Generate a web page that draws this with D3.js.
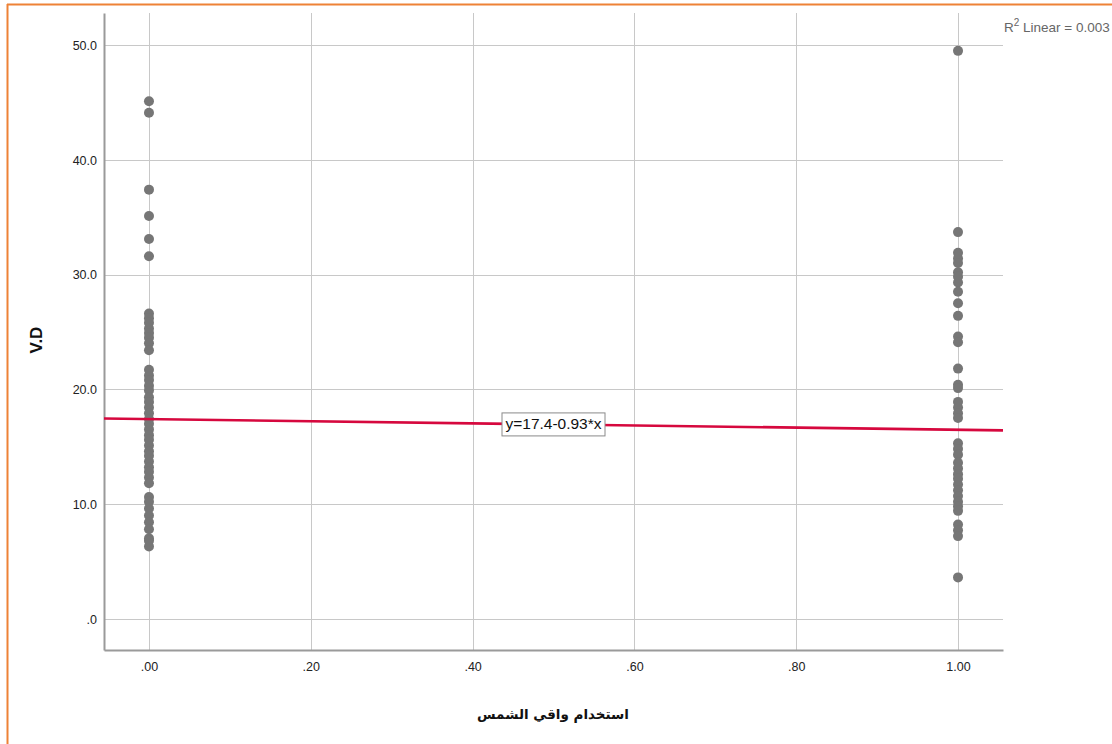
<!DOCTYPE html>
<html>
<head>
<meta charset="utf-8">
<script src="https://cdn.jsdelivr.net/npm/d3@7"></script>
<style>
  body { margin: 0; background: #fff; }
  svg { display: block; }
</style>
</head>
<body>
<svg id="chart" width="1112" height="744"></svg>
<script>
// V.D by sunscreen use (0 = no, 1 = yes)
const groupX = [0, 1];
const vdGroup0 = [45.1, 44.1, 37.4, 35.1, 33.1, 31.6,
  26.6, 26.2, 25.8, 25.3, 24.9, 24.5, 24.0, 23.4,
  21.7, 21.2, 20.8, 20.3, 19.9, 19.3, 18.9, 18.4, 17.9, 17.4, 17.0,
  16.5, 16.0, 15.6, 15.1, 14.6, 14.2, 13.7, 13.2, 12.8, 12.3, 11.8,
  10.6, 10.2, 9.6, 9.0, 8.4, 7.8, 7.0, 6.8, 6.3];
const vdGroup1 = [49.5, 33.7, 31.9, 31.4, 31.0, 30.2, 29.8, 29.3, 28.5, 27.5,
  26.4, 24.6, 24.1, 21.8, 20.4, 20.1, 18.9, 18.4, 17.9, 17.5,
  15.3, 14.8, 14.3, 13.6, 13.1, 12.6, 12.2, 11.7, 11.2, 10.7, 10.2,
  9.8, 9.4, 8.2, 7.7, 7.2, 3.6];
const xTicks = [0, 0.2, 0.4, 0.6, 0.8, 1.0];
const yTicks = [0, 10, 20, 30, 40, 50];
const intercept = 17.4;
const slope = -0.93;
const rSquared = "0.003";
const xTitle = "استخدام واقي الشمس";
const yTitle = "V.D";

const svg = d3.select("#chart");
const W = 1112, H = 744;
const plot = { left: 104, right: 1003, top: 13, bottom: 650 };

const x = d3.scaleLinear().domain([-0.0556, 1.0556]).range([plot.left, plot.right]);
const y = d3.scaleLinear().domain([-2.73, 52.8]).range([plot.bottom, plot.top]);

// frame accent
svg.append("line").attr("x1", 7).attr("x2", W).attr("y1", 4.5).attr("y2", 4.5)
  .attr("stroke", "#ee8236").attr("stroke-width", 2);
svg.append("line").attr("x1", 7.5).attr("x2", 7.5).attr("y1", 4).attr("y2", H)
  .attr("stroke", "#ee8236").attr("stroke-width", 2);

// grid
const grid = svg.append("g");
grid.selectAll(".gy").data(yTicks).join("line")
  .attr("x1", plot.left).attr("x2", plot.right)
  .attr("y1", d => Math.round(y(d)) + 0.5).attr("y2", d => Math.round(y(d)) + 0.5)
  .attr("stroke", "#c8c8c8").attr("stroke-width", 1);
grid.selectAll(".gx").data(xTicks).join("line")
  .attr("x1", d => Math.round(x(d)) + 0.5).attr("x2", d => Math.round(x(d)) + 0.5)
  .attr("y1", plot.top).attr("y2", plot.bottom)
  .attr("stroke", "#c8c8c8").attr("stroke-width", 1);

// axes
const yAxis = d3.axisLeft(y).tickValues(yTicks).tickSize(0).tickPadding(7)
  .tickFormat(d => d === 0 ? ".0" : d3.format(".1f")(d));
const xAxis = d3.axisBottom(x).tickValues(xTicks).tickSize(0).tickPadding(12)
  .tickFormat(d => d3.format(".2f")(d).replace(/^0/, ""));

const gy = svg.append("g").attr("transform", `translate(${plot.left},0)`).call(yAxis);
const gx = svg.append("g").attr("transform", `translate(0,${plot.bottom})`).call(xAxis);
[gy, gx].forEach(g => {
  g.select(".domain").attr("stroke", "#9a9a9a").attr("stroke-width", 2);
  g.selectAll("text").attr("font-family", "'Liberation Sans', Arial, sans-serif")
    .attr("font-size", 12.5).attr("fill", "#222");
});
gy.selectAll("text").attr("dy", "0.35em");

// points
const pts = [];
vdGroup0.forEach(v => pts.push({ x: groupX[0], v }));
vdGroup1.forEach(v => pts.push({ x: groupX[1], v }));
svg.append("g").selectAll("circle").data(pts).join("circle")
  .attr("cx", d => x(d.x)).attr("cy", d => y(d.v)).attr("r", 5)
  .attr("fill", "#767676");

// fit line
const [x0, x1] = x.domain();
svg.append("line")
  .attr("x1", x(x0)).attr("y1", y(intercept + slope * x0))
  .attr("x2", x(x1)).attr("y2", y(intercept + slope * x1))
  .attr("stroke", "#d6083e").attr("stroke-width", 2.6);

// equation label
const midX = (x0 + x1) / 2;
const eq = svg.append("g").attr("transform", `translate(${x(midX)},${y(intercept + slope * midX)})`);
const eqText = `y=${intercept}${slope < 0 ? "-" : "+"}${Math.abs(slope)}*x`;
eq.append("rect").attr("x", -51.5).attr("y", -11.5).attr("width", 103).attr("height", 23)
  .attr("fill", "#fff").attr("stroke", "#8a8a8a").attr("stroke-width", 1);
eq.append("text").attr("text-anchor", "middle").attr("dy", "0.36em")
  .attr("font-family", "'Liberation Sans', Arial, sans-serif").attr("font-size", 14)
  .attr("textLength", 96).attr("lengthAdjust", "spacingAndGlyphs")
  .attr("fill", "#111").text(eqText);

// R² annotation
const r2 = svg.append("text").attr("x", 1004).attr("y", 32)
  .attr("font-family", "'Liberation Sans', Arial, sans-serif").attr("font-size", 13.5)
  .attr("fill", "#666");
r2.append("tspan").text("R");
r2.append("tspan").attr("font-size", 10).attr("dy", -6).text("2");
r2.append("tspan").attr("dy", 6).text(" Linear = " + rSquared);

// axis titles
svg.append("text").attr("transform", "translate(42,340) rotate(-90)")
  .attr("text-anchor", "middle").attr("font-family", "'Liberation Sans', Arial, sans-serif")
  .attr("font-weight", "bold").attr("font-size", 17).attr("fill", "#111").text(yTitle);
svg.append("text").attr("x", 553).attr("y", 719).attr("text-anchor", "middle")
  .attr("direction", "rtl")
  .attr("font-family", "'DejaVu Sans', 'Noto Sans', sans-serif")
  .attr("font-weight", "bold").attr("font-size", 13.5).attr("fill", "#111").text(xTitle);
</script>
</body>
</html>
